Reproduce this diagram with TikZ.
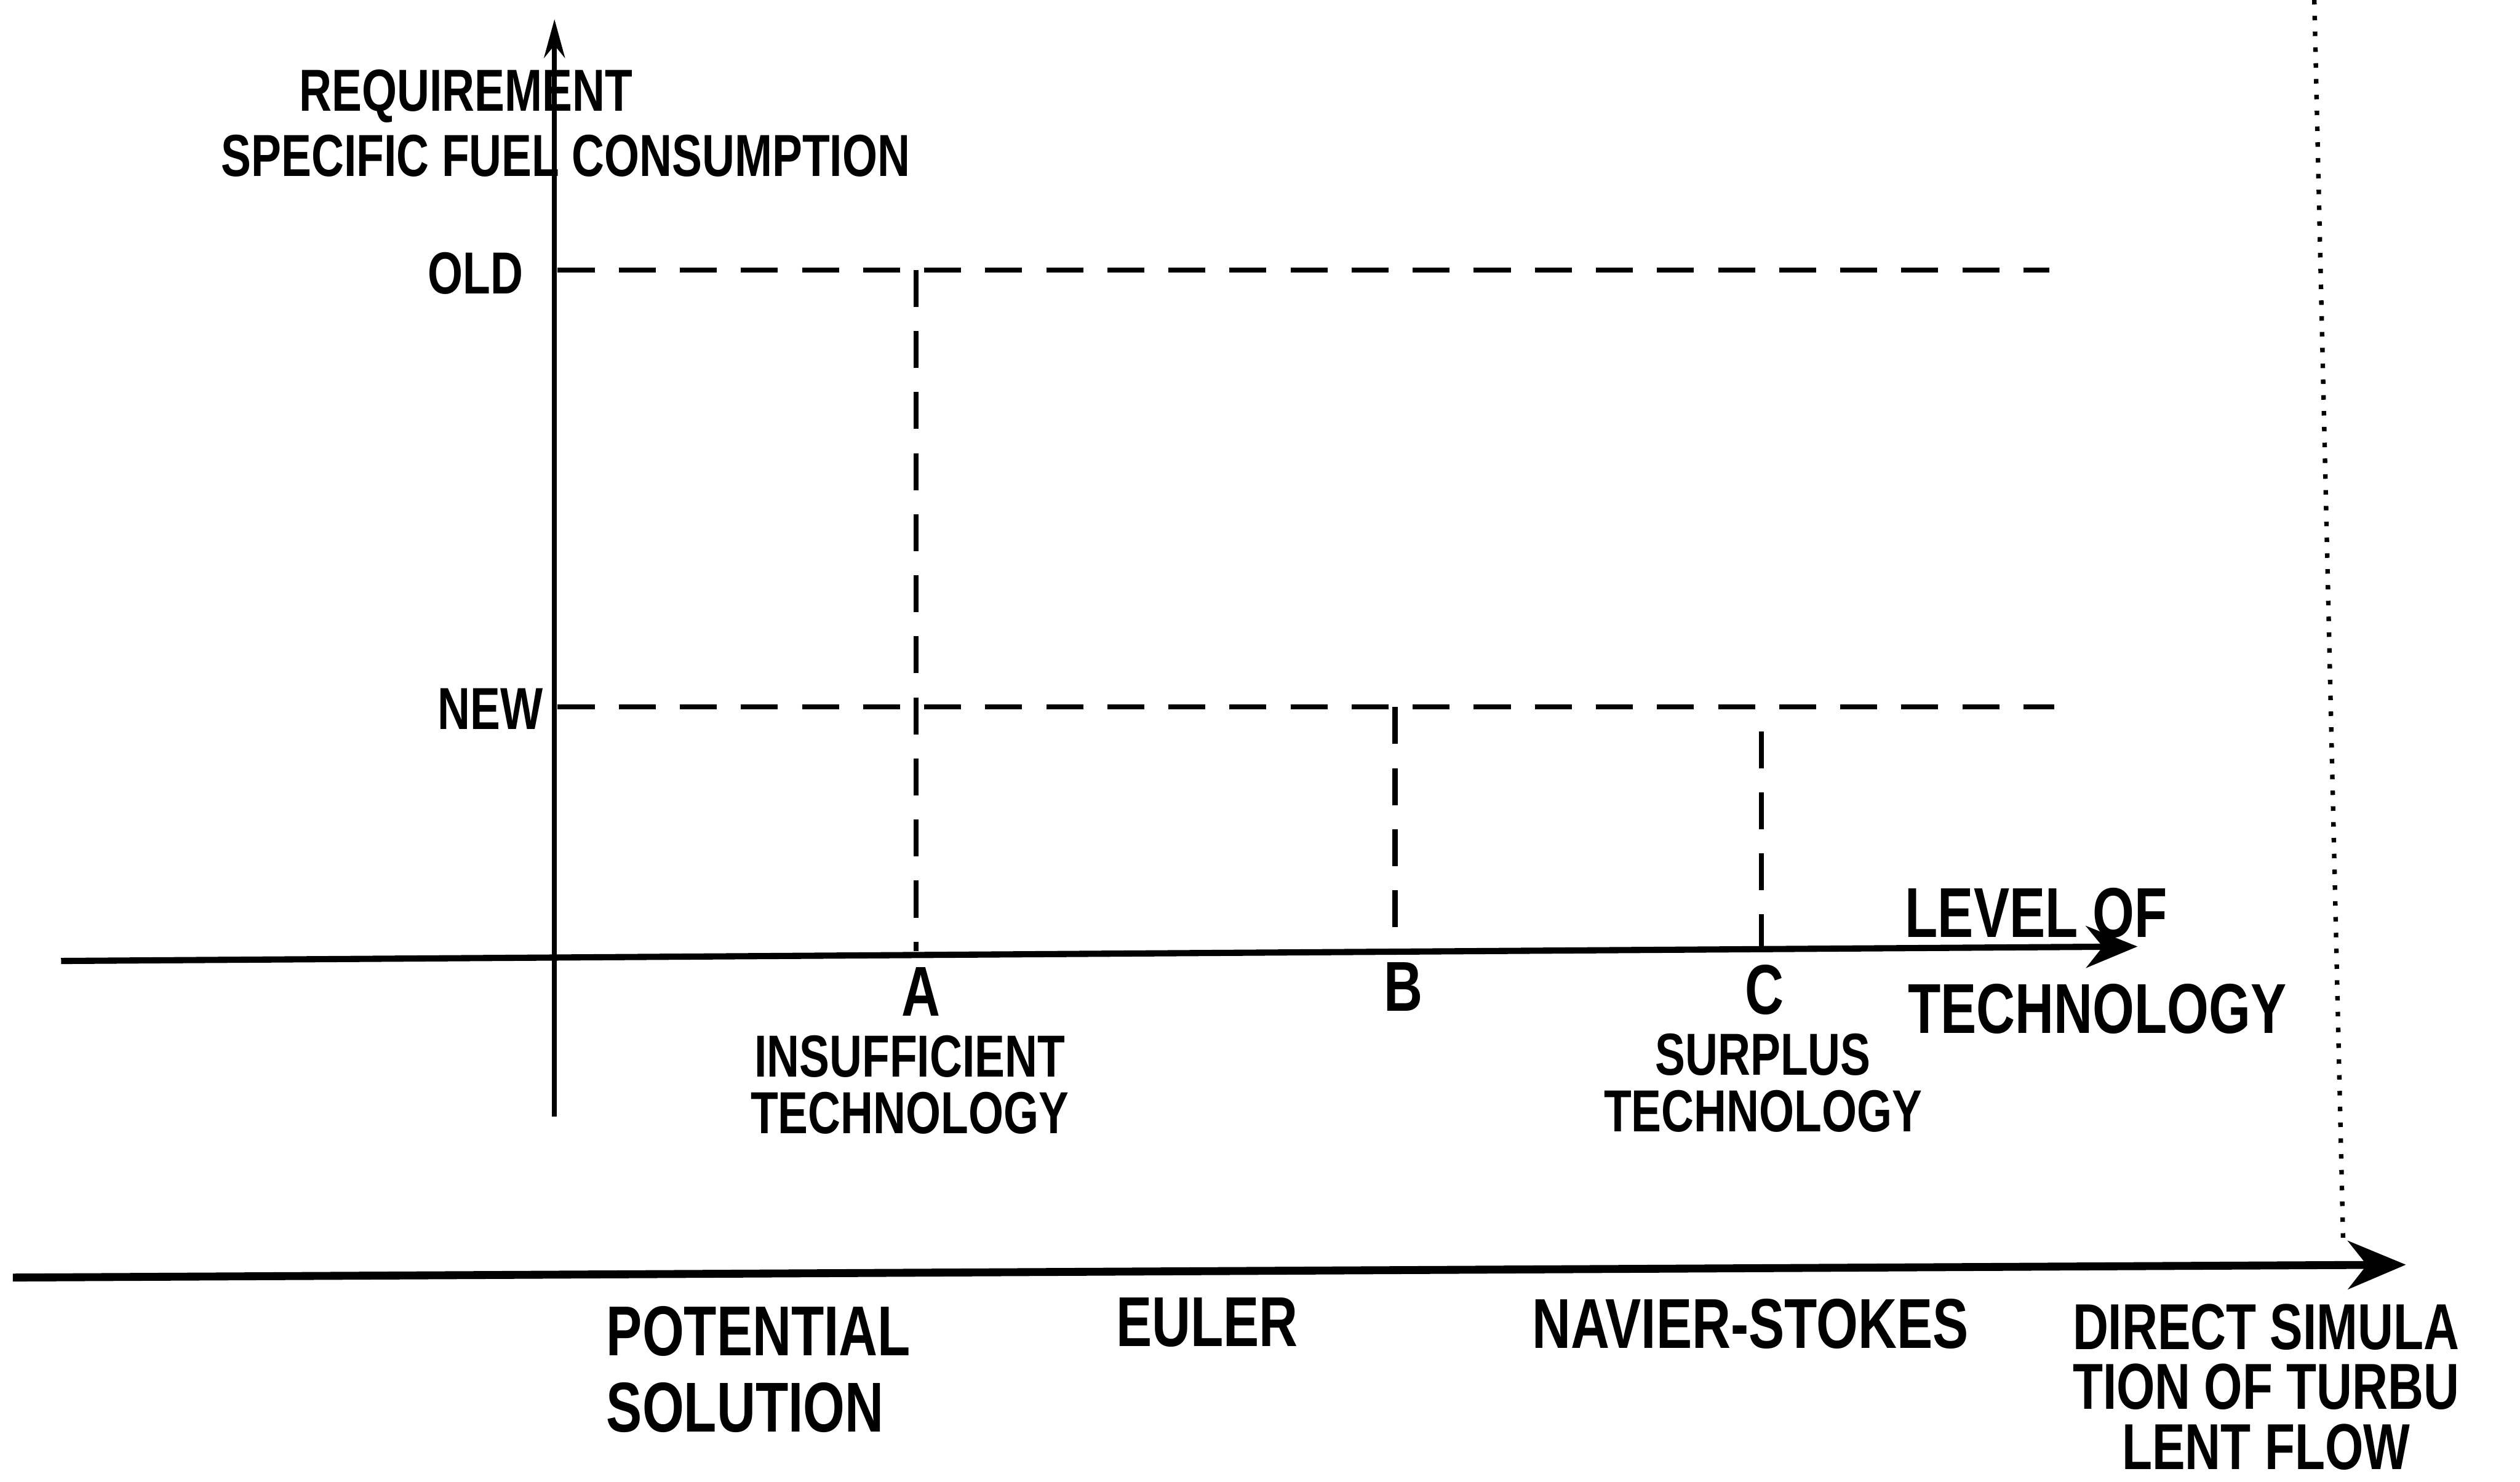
\documentclass[tikz,border=0pt]{standalone}
\usepackage{fontspec}
\setmainfont[FakeStretch=0.76]{Liberation Sans}
\usetikzlibrary{arrows.meta}

\begin{document}
\begin{tikzpicture}[
                  x = 1cm,
                  y = 1cm,
   every node/.style = {inner sep=0pt, outer sep=0pt},
        hand/.style = {font=\bfseries\fontsize{10.5}{10}\selectfont, align=center},
     bighand/.style = {font=\bfseries\fontsize{12.5}{13.5}\selectfont, align=center},
        axis/.style = {draw, line width=1.1pt, -{Stealth[length=3.2mm,width=2.6mm]}},
       guide/.style = {draw, line width=0.9pt, dash pattern=on 2.3mm off 1.5mm},
    scanline/.style = {draw, line width=0.8pt, dotted},
                   ]
\useasboundingbox (0,0) rectangle (15.68,9.22);

% axes of the requirement chart
\coordinate (yb) at (3.45,2.27);
\coordinate (yt) at (3.45,9.10);
\coordinate (xl) at (0.38,3.24);
\coordinate (xr) at (13.30,3.33);
\draw[axis, line width=0.9pt, -{Stealth[length=2.4mm,width=1.3mm]}] (yb) -- (yt);
\draw[axis] (xl) -- (xr);

\node[hand] (req)  at (2.90,8.62) {REQUIREMENT};
\node[hand] (sfc)  at (3.52,8.25) {SPECIFIC FUEL CONSUMPTION};
\node[bighand] (lvl) at (12.67,3.54) {LEVEL OF};
\node[bighand] (tec) at (13.05,2.94) {TECHNOLOGY};

% old and new levels
\node[hand] (old) at (2.96,7.52) {OLD};
\node[hand] (new) at (3.05,4.81) {NEW};
\coordinate (oldL) at (3.47,7.54);
\coordinate (oldR) at (12.75,7.54);
\coordinate (newL) at (3.47,4.82);
\coordinate (newR) at (12.78,4.82);
\draw[guide] (oldL) -- (oldR);
\draw[guide] (newL) -- (newR);

% technology levels A, B, C
\coordinate (Atop) at (5.70,7.54);
\coordinate (Abot) at (5.70,3.30);
\coordinate (Btop) at (8.68,4.82);
\coordinate (Bbot) at (8.68,3.33);
\coordinate (Ctop) at (10.96,4.67);
\coordinate (Cbot) at (10.96,3.33);
\draw[guide] (Atop) -- (Abot);
\draw[guide] (Btop) -- (Bbot);
\draw[guide] (Ctop) -- (Cbot);

\node[bighand] (A) at (5.73,3.05) {A};
\node[bighand] (B) at (8.73,3.08) {B};
\node[bighand] (C) at (10.98,3.06) {C};
\node[hand] (insuf) at (5.66,2.47) {INSUFFICIENT\\TECHNOLOGY};
\node[hand] (surpl) at (10.97,2.48) {SURPLUS\\TECHNOLOGY};

% flow models
\coordinate (ml) at (0.08,1.27);
\coordinate (mr) at (14.97,1.35);
\draw[axis, line width=1.4pt, -{Stealth[length=3.6mm,width=3mm]}] (ml) -- (mr);

\node[bighand, align=left] (pot) at (4.72,0.70) {POTENTIAL\\SOLUTION};
\node[bighand] (eul) at (7.51,0.99) {EULER};
\node[bighand] (nav) at (10.89,0.98) {NAVIER-STOKES};
\node[bighand, font=\bfseries\fontsize{11.5}{10.6}\selectfont] (dns) at (14.10,0.59)
    {DIRECT SIMULA\\TION OF TURBU\\LENT FLOW};

% fold of the sheet
\coordinate (s1) at (14.40,9.22);
\coordinate (s2) at (14.58,1.47);
\draw[scanline] (s1) -- (s2);
\end{tikzpicture}
\end{document}
